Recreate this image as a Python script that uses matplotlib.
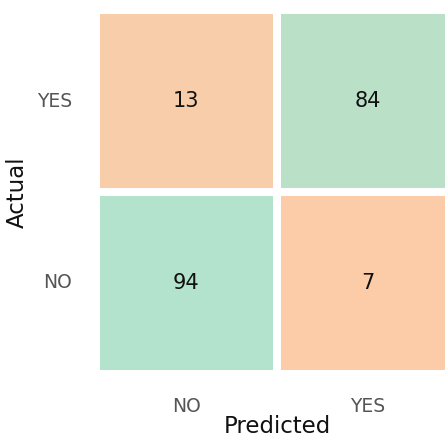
import matplotlib
matplotlib.use("Agg")
import matplotlib.pyplot as plt
import numpy as np
import seaborn as sns
from matplotlib.colors import LinearSegmentedColormap

row_labels = ["YES", "NO"]        # Actual
col_labels = ["NO", "YES"]        # Predicted
values = [[13, 84],
          [94, 7]]

cmap = LinearSegmentedColormap.from_list("og", ["#FCCBA8", "#B3E3CC"])

fig = plt.figure(figsize=(4.45, 4.36), dpi=100)
fig.patch.set_facecolor("white")
ax = fig.add_axes([95.5/445, (436-373.5)/436, 363/445, 363/436])

arr = np.array(values)
sns.heatmap(arr, ax=ax, cmap=cmap, vmin=arr.min(), vmax=arr.max(),
            annot=True, fmt="d", cbar=False, linewidths=5.5, linecolor="white",
            annot_kws={"fontsize": 15, "color": "#111111"},
            xticklabels=col_labels, yticklabels=row_labels)

ax.tick_params(axis="both", length=0, pad=17, labelsize=13.5, labelcolor="#555555")
plt.setp(ax.get_yticklabels(), rotation=0)
ax.set_xlabel("Predicted", fontsize=16.5, color="#111111", labelpad=-1)
ax.set_ylabel("Actual", fontsize=16.5, color="#111111", labelpad=6)
for s in ax.spines.values():
    s.set_visible(False)

fig.savefig("out.png", dpi=100, facecolor="white")
